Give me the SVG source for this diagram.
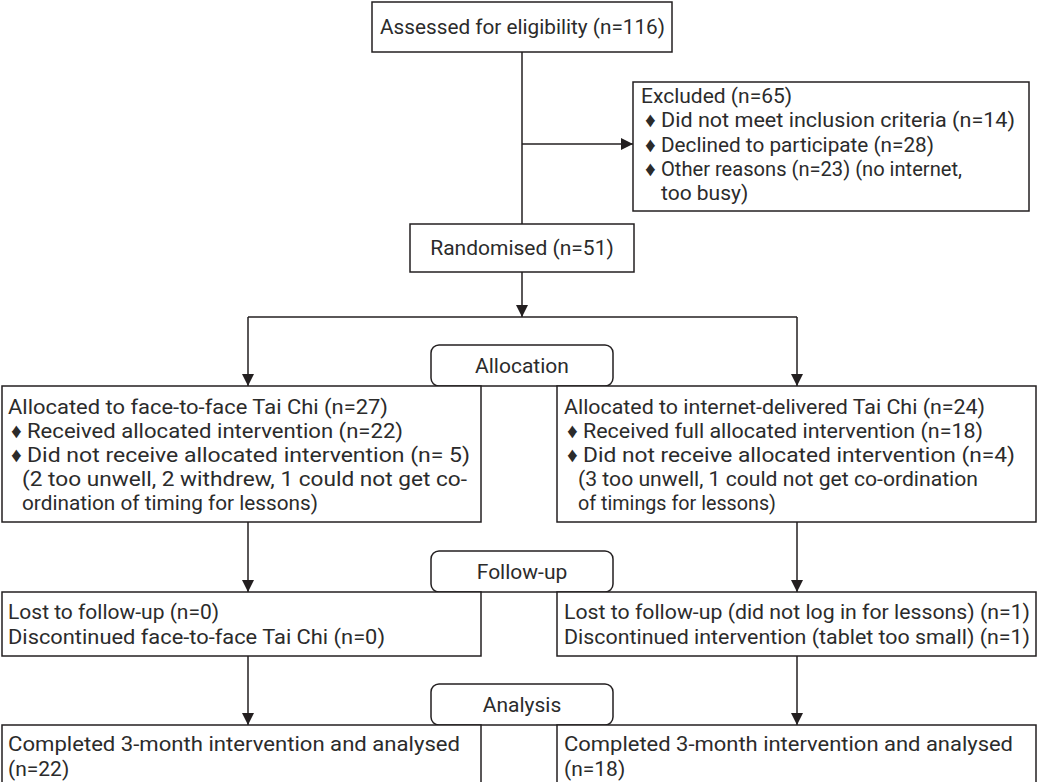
<svg xmlns="http://www.w3.org/2000/svg" width="1038" height="782" viewBox="0 0 1038 782">
<defs>
<marker id="arr" viewBox="0 0 12 12" refX="12" refY="6" markerWidth="12" markerHeight="12" markerUnits="userSpaceOnUse" orient="auto">
<path d="M0,0 L12,6 L0,12 Z" fill="#231f20"/>
</marker>
<style>
.box{fill:#fff;stroke:#231f20;stroke-width:1.5}
.t{font-family:Roboto,"Liberation Sans",sans-serif;font-size:21px;fill:#2b2b2b}
.c{text-anchor:middle}
.ln{fill:none;stroke:#231f20;stroke-width:1.5}
</style>
</defs>
<rect width="1038" height="782" fill="#fff"/>
<g id="connectors">
<line class="ln" x1="522" y1="52" x2="522" y2="224"/>
<line class="ln" x1="522" y1="144" x2="633" y2="144" marker-end="url(#arr)"/>
<line class="ln" x1="522" y1="272" x2="522" y2="317" marker-end="url(#arr)"/>
<line class="ln" x1="248" y1="317" x2="797" y2="317"/>
<line class="ln" x1="248" y1="317" x2="248" y2="386" marker-end="url(#arr)"/>
<line class="ln" x1="797" y1="317" x2="797" y2="386" marker-end="url(#arr)"/>
<line class="ln" x1="248" y1="522" x2="248" y2="592" marker-end="url(#arr)"/>
<line class="ln" x1="797" y1="522" x2="797" y2="592" marker-end="url(#arr)"/>
<line class="ln" x1="248" y1="656" x2="248" y2="725" marker-end="url(#arr)"/>
<line class="ln" x1="797" y1="656" x2="797" y2="725" marker-end="url(#arr)"/>
</g>
<g id="assessed">
<rect class="box" x="372" y="2" width="300" height="50"/>
<text class="t" x="380" y="34" textLength="285" lengthAdjust="spacingAndGlyphs">Assessed for eligibility (n=116)</text>
</g>
<g id="excluded">
<rect class="box" x="633" y="82" width="396" height="129"/>
<text class="t" x="641" y="103">Excluded (n=65)</text>
<text class="t" x="645" y="127">♦</text><text class="t" x="661" y="127" textLength="354" lengthAdjust="spacingAndGlyphs">Did not meet inclusion criteria (n=14)</text>
<text class="t" x="645" y="152">♦</text><text class="t" x="661" y="152" textLength="273" lengthAdjust="spacingAndGlyphs">Declined to participate (n=28)</text>
<text class="t" x="645" y="176">♦</text><text class="t" x="661" y="176" textLength="301" lengthAdjust="spacingAndGlyphs">Other reasons (n=23) (no internet,</text>
<text class="t" x="661" y="200">too busy)</text>
</g>
<g id="randomised">
<rect class="box" x="410" y="224" width="224" height="48"/>
<text class="t c" x="522" y="255">Randomised (n=51)</text>
</g>
<g id="allocation">
<rect class="box" x="431" y="345" width="182" height="41" rx="8"/>
<text class="t c" x="522" y="373">Allocation</text>
</g>
<g id="alloc-left">
<rect class="box" x="2" y="386" width="479" height="136"/>
<text class="t" x="8" y="414" textLength="380" lengthAdjust="spacingAndGlyphs">Allocated to face-to-face Tai Chi (n=27)</text>
<text class="t" x="11" y="438">♦</text><text class="t" x="27" y="438" textLength="376" lengthAdjust="spacingAndGlyphs">Received allocated intervention (n=22)</text>
<text class="t" x="11" y="462">♦</text><text class="t" x="27" y="462" textLength="443" lengthAdjust="spacingAndGlyphs">Did not receive allocated intervention (n= 5)</text>
<text class="t" x="22" y="486" textLength="445" lengthAdjust="spacingAndGlyphs">(2 too unwell, 2 withdrew, 1 could not get co-</text>
<text class="t" x="22" y="510" textLength="296" lengthAdjust="spacingAndGlyphs">ordination of timing for lessons)</text>
</g>
<g id="alloc-right">
<rect class="box" x="557" y="386" width="479" height="136"/>
<text class="t" x="564" y="414" textLength="421" lengthAdjust="spacingAndGlyphs">Allocated to internet-delivered Tai Chi (n=24)</text>
<text class="t" x="567" y="438">♦</text><text class="t" x="583" y="438" textLength="400" lengthAdjust="spacingAndGlyphs">Received full allocated intervention (n=18)</text>
<text class="t" x="567" y="462">♦</text><text class="t" x="583" y="462" textLength="432" lengthAdjust="spacingAndGlyphs">Did not receive allocated intervention (n=4)</text>
<text class="t" x="578" y="486" textLength="400" lengthAdjust="spacingAndGlyphs">(3 too unwell, 1 could not get co-ordination</text>
<text class="t" x="578" y="510" textLength="198" lengthAdjust="spacingAndGlyphs">of timings for lessons)</text>
</g>
<g id="followup">
<rect class="box" x="431" y="551" width="182" height="41" rx="8"/>
<text class="t c" x="522" y="579">Follow-up</text>
</g>
<g id="follow-left">
<rect class="box" x="2" y="592" width="479" height="64"/>
<text class="t" x="8" y="619">Lost to follow-up (n=0)</text>
<text class="t" x="8" y="644" textLength="377" lengthAdjust="spacingAndGlyphs">Discontinued face-to-face Tai Chi (n=0)</text>
</g>
<g id="follow-right">
<rect class="box" x="557" y="592" width="479" height="64"/>
<text class="t" x="564" y="619" textLength="466" lengthAdjust="spacingAndGlyphs">Lost to follow-up (did not log in for lessons) (n=1)</text>
<text class="t" x="564" y="644" textLength="466" lengthAdjust="spacingAndGlyphs">Discontinued intervention (tablet too small) (n=1)</text>
</g>
<g id="analysis">
<rect class="box" x="431" y="684" width="182" height="41" rx="8"/>
<text class="t c" x="522" y="712">Analysis</text>
</g>
<g id="analysed-left">
<rect class="box" x="2" y="725" width="479" height="70"/>
<text class="t" x="8" y="751" textLength="452" lengthAdjust="spacingAndGlyphs">Completed 3-month intervention and analysed</text>
<text class="t" x="8" y="776">(n=22)</text>
</g>
<g id="analysed-right">
<rect class="box" x="557" y="725" width="479" height="70"/>
<text class="t" x="564" y="751" textLength="449" lengthAdjust="spacingAndGlyphs">Completed 3-month intervention and analysed</text>
<text class="t" x="564" y="776">(n=18)</text>
</g>
</svg>
